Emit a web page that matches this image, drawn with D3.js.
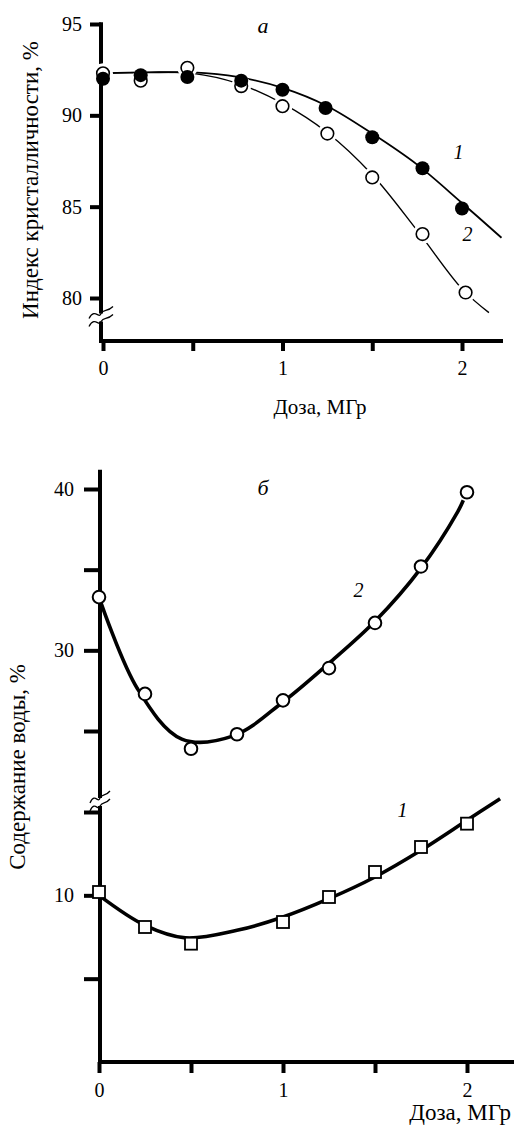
<!DOCTYPE html>
<html>
<head>
<meta charset="utf-8">
<script src="https://cdn.jsdelivr.net/npm/d3@7"></script>
<style>
    html, body { margin: 0; padding: 0; background: #fff; }
    svg text { font-family: "Liberation Serif", "Times New Roman", "DejaVu Serif", serif; fill: #000; }
    .tick text { font-size: 20px; }
</style>
</head>
<body>
<div id="chart"></div>
<script>
// panel "а": crystallinity index vs dose
var doseA1 = [0, 0.21, 0.47, 0.77, 1.0, 1.24, 1.5, 1.78, 2.0],
    crystA1 = [92.0, 92.2, 92.1, 91.9, 91.4, 90.4, 88.8, 87.1, 84.9],
    doseA2 = [0, 0.21, 0.47, 0.77, 1.0, 1.25, 1.5, 1.78, 2.02],
    crystA2 = [92.3, 91.9, 92.6, 91.6, 90.5, 89.0, 86.6, 83.5, 80.3],
    // fitted curves
    fitDoseA1 = [0, 0.25, 0.5, 0.75, 1.0, 1.25, 1.5, 1.75, 2.0, 2.22],
    fitCrystA1 = [92.3, 92.35, 92.35, 92.1, 91.5, 90.5, 89.0, 87.3, 85.2, 83.3],
    fitDoseA2 = [0, 0.25, 0.5, 0.75, 1.0, 1.25, 1.5, 1.75, 2.0, 2.15],
    fitCrystA2 = [92.3, 92.35, 92.3, 91.75, 90.65, 89.05, 86.75, 83.7, 80.5, 79.2],
    ticksA = [80, 85, 90, 95];

// panel "б": water content vs dose (broken y axis)
var doseB1 = [0, 0.25, 0.5, 1.0, 1.25, 1.5, 1.75, 2.0],
    waterB1 = [10.2, 8.1, 7.1, 8.4, 9.9, 11.4, 12.9, 14.3],
    doseB2 = [0, 0.25, 0.5, 0.75, 1.0, 1.25, 1.5, 1.75, 2.0],
    waterB2 = [33.3, 27.3, 23.9, 24.8, 26.9, 28.9, 31.7, 35.2, 39.8],
    fitDoseB1 = [0, 0.25, 0.47, 0.75, 1.0, 1.25, 1.5, 1.75, 2.0, 2.18],
    fitWaterB1 = [10.0, 8.2, 7.45, 7.9, 8.7, 9.8, 11.1, 12.7, 14.5, 15.8],
    fitDoseB2 = [0, 0.21, 0.45, 0.73, 1.0, 1.25, 1.5, 1.75, 1.95, 1.98],
    fitWaterB2 = [33.3, 27.6, 24.5, 24.7, 26.8, 29.2, 31.8, 35.1, 38.6, 39.3],
    ticksBUp = [25, 30, 35, 40],
    ticksBLow = [5, 10, 15];

var doseTicks = [0, 0.5, 1, 1.5, 2];

var width = 514,
    height = 1128,
    serif = "'Liberation Serif', 'Times New Roman', 'DejaVu Serif', serif";

var svg = d3.select("#chart")
    .append("svg")
    .attr("width", width)
    .attr("height", height)
    .attr("font-family", serif);

svg.append("rect").attr("width", width).attr("height", height).attr("fill", "#fff");

function zip(xs, ys) {
    return xs.map(function (x, i) { return [x, ys[i]]; });
}

function doseFormat(d) {
    return d % 1 === 0 ? d : "";
}

function styleAxis(g, w) {
    g.attr("font-family", serif).attr("font-size", 20);
    g.select(".domain").remove();
    g.selectAll(".tick line").attr("stroke", "#000").attr("stroke-width", w);
}

function label(g, x, y, txt, size, italic, anchor) {
    return g.append("text")
        .attr("x", x).attr("y", y)
        .attr("font-family", serif)
        .attr("font-size", size)
        .attr("font-style", italic ? "italic" : "normal")
        .attr("text-anchor", anchor || "middle")
        .text(txt);
}

function breakMark(g, x, y, wid) {
    // two wavy strokes across the axis with a gap
    g.append("rect").attr("x", x - 4).attr("y", y - 4).attr("width", 8).attr("height", 8).attr("fill", "#fff");
    [-4, 4].forEach(function (dy) {
        g.append("path")
            .attr("d", "M" + (x - wid) + "," + (y + dy + 5) +
                " C" + (x - wid / 2) + "," + (y + dy - 6) + " " + (x - 2) + "," + (y + dy + 6) + " " + x + "," + (y + dy) +
                " C" + (x + 3) + "," + (y + dy - 5) + " " + (x + wid / 2) + "," + (y + dy - 1) + " " + (x + wid) + "," + (y + dy - 7))
            .attr("fill", "none")
            .attr("stroke", "#000")
            .attr("stroke-width", 1.3);
    });
}

// ---------- panel а ----------
var xA = d3.scaleLinear().domain([0, 2]).range([103, 462]),
    yA = d3.scaleLinear().domain([80, 95]).range([298, 24]),
    axisYA = xA(0) - 2,
    axisXA = 341;

var gA = svg.append("g");

gA.append("line")
    .attr("x1", axisYA).attr("x2", axisYA)
    .attr("y1", yA(95.1)).attr("y2", axisXA + 2)
    .attr("stroke", "#000").attr("stroke-width", 4);
gA.append("line")
    .attr("x1", axisYA - 2).attr("x2", 503)
    .attr("y1", axisXA).attr("y2", axisXA)
    .attr("stroke", "#000").attr("stroke-width", 4);

gA.append("g")
    .attr("transform", "translate(" + axisYA + ",0)")
    .call(d3.axisLeft(yA).tickValues(ticksA).tickSize(11).tickPadding(8))
    .call(styleAxis, 4);

gA.append("g")
    .attr("transform", "translate(0," + axisXA + ")")
    .call(d3.axisBottom(xA).tickValues(doseTicks).tickFormat(doseFormat).tickSize(10).tickPadding(10))
    .call(styleAxis, 4);

breakMark(gA, axisYA, (yA(80) + axisXA) / 2 - 2, 12);

var lineA = d3.line()
    .x(function (d) { return xA(d[0]); })
    .y(function (d) { return yA(d[1]); })
    .curve(d3.curveCatmullRom);

gA.append("path")
    .datum(zip(fitDoseA1, fitCrystA1))
    .attr("d", lineA)
    .attr("fill", "none").attr("stroke", "#000").attr("stroke-width", 1.8);

gA.append("path")
    .datum(zip(fitDoseA2, fitCrystA2))
    .attr("d", lineA)
    .attr("fill", "none").attr("stroke", "#000").attr("stroke-width", 1.4);

// white halos break curve 2 around its open markers
gA.selectAll(".haloA2")
    .data(zip(doseA2, crystA2))
    .enter()
    .append("circle")
    .attr("cx", function (d) { return xA(d[0]); })
    .attr("cy", function (d) { return yA(d[1]); })
    .attr("r", 10)
    .attr("fill", "#fff");

gA.selectAll(".ptA2")
    .data(zip(doseA2, crystA2))
    .enter()
    .append("circle")
    .attr("cx", function (d) { return xA(d[0]); })
    .attr("cy", function (d) { return yA(d[1]); })
    .attr("r", 6.3)
    .attr("fill", "#fff").attr("stroke", "#000").attr("stroke-width", 1.6);

gA.selectAll(".ptA1")
    .data(zip(doseA1, crystA1))
    .enter()
    .append("circle")
    .attr("cx", function (d) { return xA(d[0]); })
    .attr("cy", function (d) { return yA(d[1]); })
    .attr("r", 7)
    .attr("fill", "#000");

label(gA, 263, 33, "а", 22, true);
label(gA, xA(1.98), yA(87.6), "1", 20, true);
label(gA, xA(2.03), yA(83.1), "2", 20, true);

label(gA, 0, 0, "Индекс кристалличности, %", 23, false)
    .attr("transform", "translate(38,180) rotate(-90)");

label(gA, 320, 414, "Доза, МГр", 21, false);

// ---------- panel б ----------
var xB = d3.scaleLinear().domain([0, 2]).range([99, 467]),
    yBUp = d3.scaleLinear().domain([25, 40]).range([731, 489]),
    yBLow = d3.scaleLinear().domain([0, 15]).range([1062, 812]),
    axisYB = xB(0) + 1,
    axisXB = yBLow(0);

var gB = svg.append("g");

gB.append("line")
    .attr("x1", axisYB).attr("x2", axisYB)
    .attr("y1", yBUp(41.2)).attr("y2", axisXB + 2)
    .attr("stroke", "#000").attr("stroke-width", 4);
gB.append("line")
    .attr("x1", axisYB - 2).attr("x2", width)
    .attr("y1", axisXB).attr("y2", axisXB)
    .attr("stroke", "#000").attr("stroke-width", 4);

gB.append("g")
    .attr("transform", "translate(" + axisYB + ",0)")
    .call(d3.axisLeft(yBUp).tickValues(ticksBUp).tickFormat(function (d) { return d % 10 === 0 ? d : ""; }).tickSize(16).tickPadding(10))
    .call(styleAxis, 4);

gB.append("g")
    .attr("transform", "translate(" + axisYB + ",0)")
    .call(d3.axisLeft(yBLow).tickValues(ticksBLow).tickFormat(function (d) { return d % 10 === 0 ? d : ""; }).tickSize(16).tickPadding(10))
    .call(styleAxis, 4);

gB.append("g")
    .attr("transform", "translate(0," + axisXB + ")")
    .call(d3.axisBottom(xB).tickValues(doseTicks).tickFormat(doseFormat).tickSize(11).tickPadding(10))
    .call(styleAxis, 4);

breakMark(gB, axisYB, yBLow(15) - 10, 10);

var lineB2 = d3.line()
    .x(function (d) { return xB(d[0]); })
    .y(function (d) { return yBUp(d[1]); })
    .curve(d3.curveCatmullRom);

var lineB1 = d3.line()
    .x(function (d) { return xB(d[0]); })
    .y(function (d) { return yBLow(d[1]); })
    .curve(d3.curveCatmullRom);

gB.append("path")
    .datum(zip(fitDoseB2, fitWaterB2))
    .attr("d", lineB2)
    .attr("fill", "none").attr("stroke", "#000").attr("stroke-width", 3.6);

gB.append("path")
    .datum(zip(fitDoseB1, fitWaterB1))
    .attr("d", lineB1)
    .attr("fill", "none").attr("stroke", "#000").attr("stroke-width", 3.6);

gB.selectAll(".ptB2")
    .data(zip(doseB2, waterB2))
    .enter()
    .append("circle")
    .attr("cx", function (d) { return xB(d[0]); })
    .attr("cy", function (d) { return yBUp(d[1]); })
    .attr("r", 6.3)
    .attr("fill", "#fff").attr("stroke", "#000").attr("stroke-width", 2);

gB.selectAll(".ptB1")
    .data(zip(doseB1, waterB1))
    .enter()
    .append("rect")
    .attr("x", function (d) { return xB(d[0]) - 6; })
    .attr("y", function (d) { return yBLow(d[1]) - 6; })
    .attr("width", 12).attr("height", 12)
    .attr("fill", "#fff").attr("stroke", "#000").attr("stroke-width", 1.8);

label(gB, 263, 495, "б", 22, true);
label(gB, xB(1.41), yBUp(33.3), "2", 20, true);
label(gB, xB(1.65), yBLow(14.7), "1", 20, true);

label(gB, 0, 0, "Содержание воды, %", 23, false)
    .attr("transform", "translate(25,767) rotate(-90)");

label(gB, 511, 1120, "Доза, МГр", 23, false, "end");
</script>
</body>
</html>
